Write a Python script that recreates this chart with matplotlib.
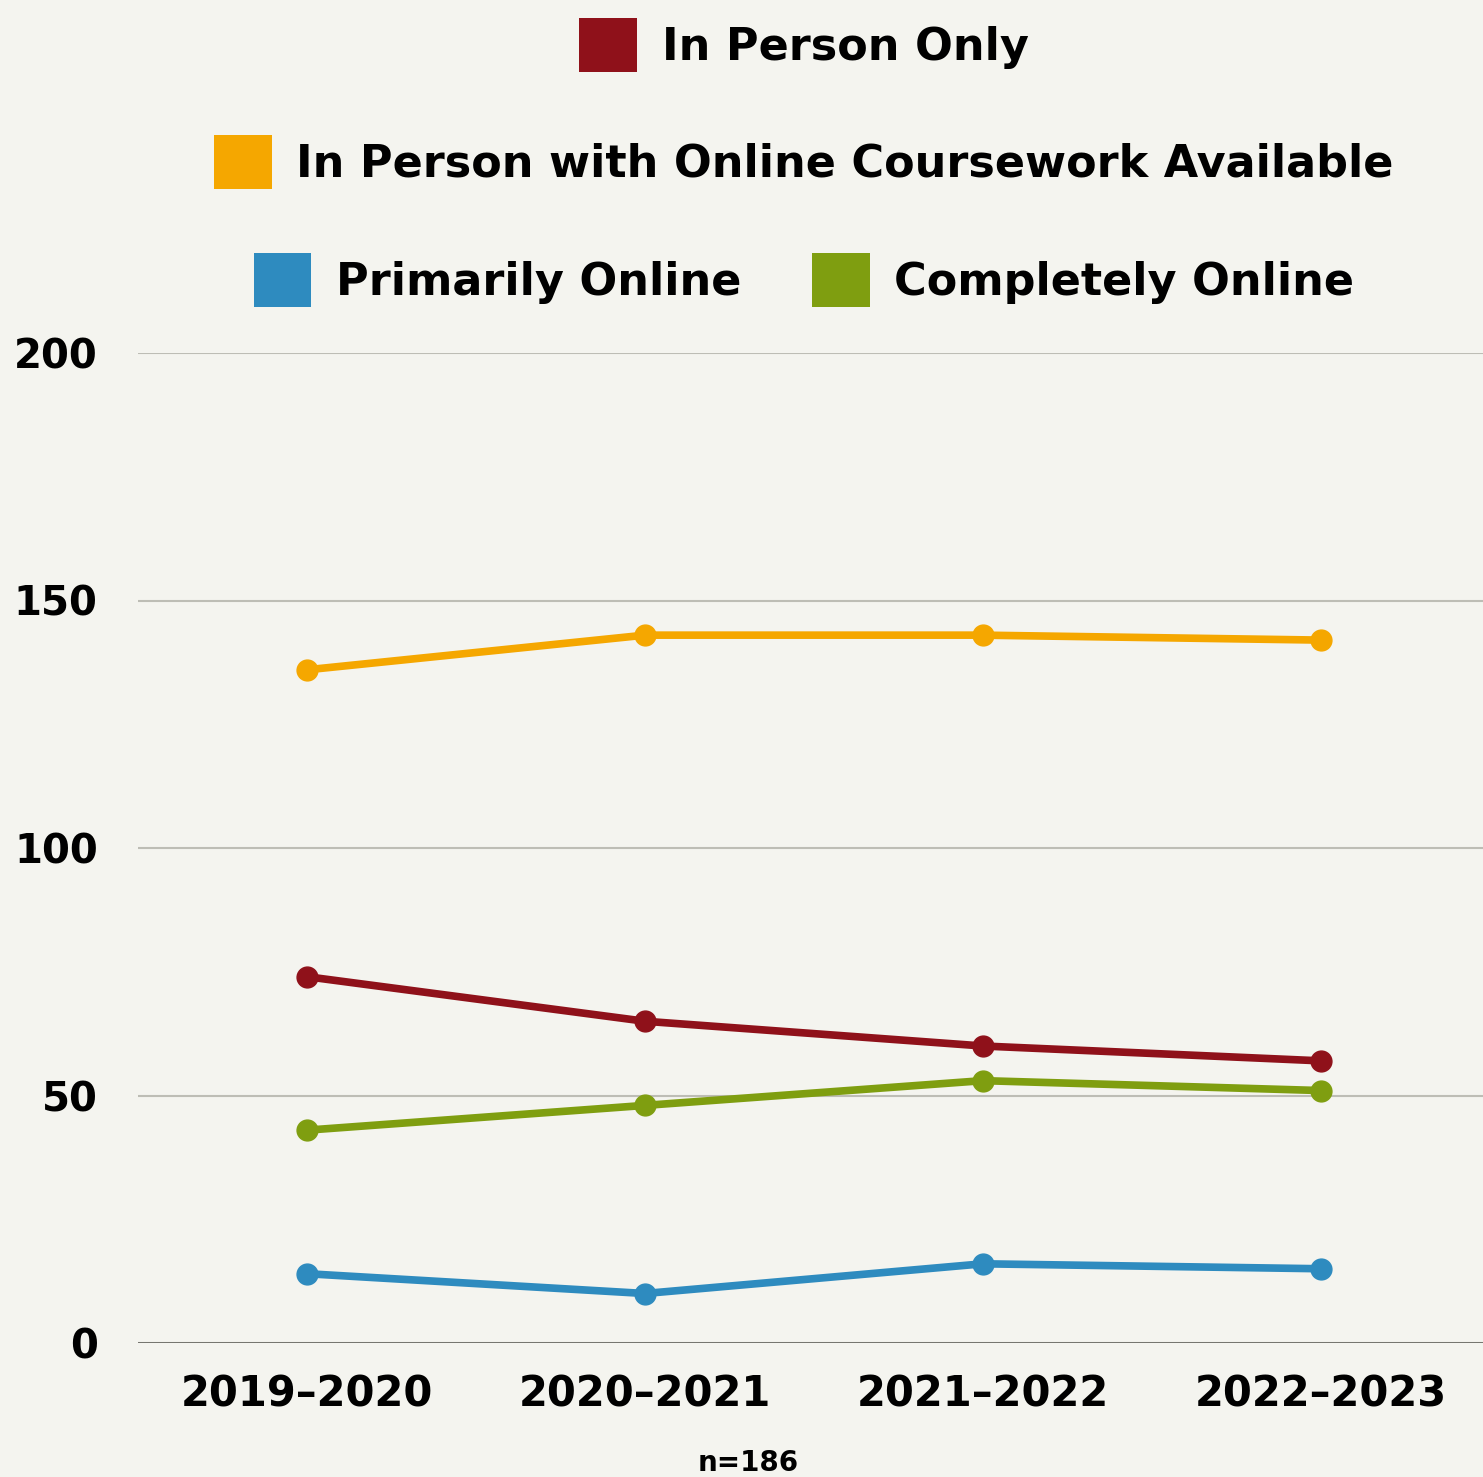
import matplotlib
matplotlib.use("Agg")
import matplotlib.pyplot as plt
from matplotlib.patches import Patch

# school years and counts per delivery mode
years = ["2019\u20132020", "2020\u20132021", "2021\u20132022", "2022\u20132023"]
in_person_only = [74, 65, 60, 57]
in_person_online_available = [136, 143, 143, 142]
primarily_online = [14, 10, 16, 15]
completely_online = [43, 48, 53, 51]

series = [
    ("In Person Only", in_person_only, "#8f111a"),
    ("In Person with Online Coursework Available", in_person_online_available, "#f5a700"),
    ("Primarily Online", primarily_online, "#2e8bbf"),
    ("Completely Online", completely_online, "#7f9e10"),
]

BG = "#f4f4ef"
FONT = "DejaVu Sans"

fig = plt.figure(figsize=(14.83, 14.77), dpi=100, facecolor=BG)
ax = fig.add_axes([138 / 1483, 1 - 1343 / 1477, 1 - 138 / 1483, (1343 - 353) / 1477])
ax.set_facecolor(BG)

x = list(range(len(years)))
for name, vals, color in series:
    ax.plot(x, vals, color=color, lw=5.5, marker="o", ms=15, solid_capstyle="round", zorder=3)

ax.set_xlim(-0.5, 3.48)
ax.set_ylim(0, 200)
ax.set_yticks([0, 50, 100, 150, 200])
ax.set_xticks(x)
ax.set_xticklabels(years)
ax.grid(axis="y", color="#bdbdb5", lw=1.5, zorder=1)
ax.axhline(0, color="#6e6e68", lw=2, zorder=2)
for s in ax.spines.values():
    s.set_visible(False)
ax.tick_params(axis="x", length=0, labelsize=30, pad=22)
ax.tick_params(axis="y", length=0, labelsize=29, pad=29)
for lab in ax.get_xticklabels() + ax.get_yticklabels():
    lab.set_fontweight("bold")
    lab.set_fontfamily(FONT)

fig.text(748 / 1483, 1 - 1463 / 1477, "n=186", ha="center", va="center",
         fontsize=20, fontweight="bold", family=FONT)

# legend laid out in three rows
rows = [[0], [1], [2, 3]]
row_y = [45, 162, 280]
for idx, yy in zip(rows, row_y):
    handles = [Patch(facecolor=series[i][2], edgecolor="none", label=series[i][0]) for i in idx]
    fig.legend(handles=handles, loc="center", bbox_to_anchor=(804 / 1483, 1 - yy / 1477),
               ncol=len(idx), frameon=False, handlelength=1.3, handleheight=1.5,
               handletextpad=0.55, columnspacing=1.6,
               prop={"family": FONT, "weight": "bold", "size": 32})

fig.savefig("out.png", dpi=100, facecolor=BG)
